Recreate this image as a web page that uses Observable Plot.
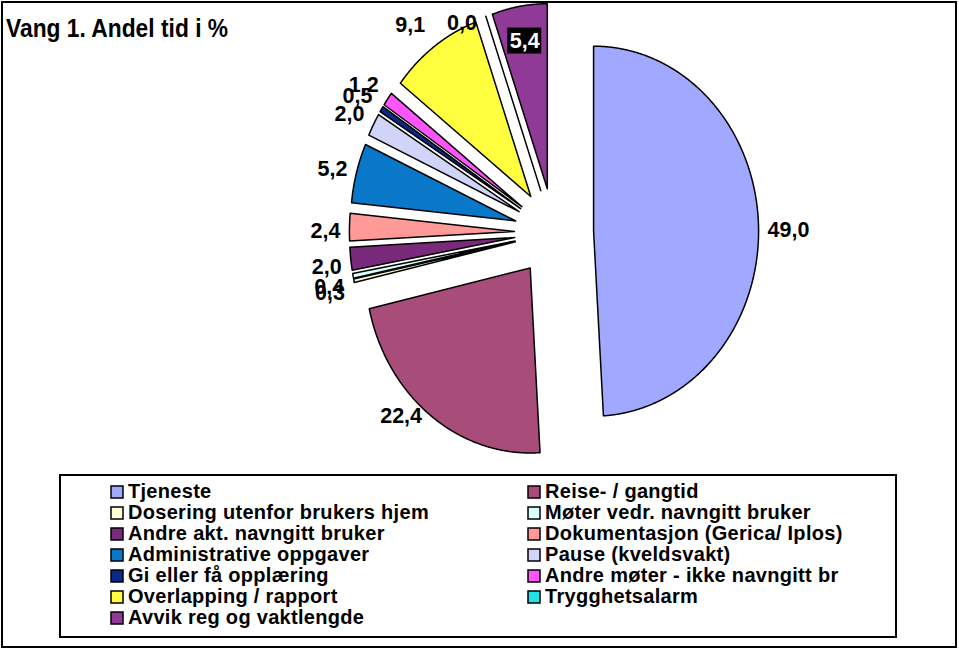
<!DOCTYPE html>
<html><head><meta charset="utf-8">
<script src="https://cdn.jsdelivr.net/npm/d3@7"></script>
<script src="https://cdn.jsdelivr.net/npm/@observablehq/plot@0.6"></script>
<style>
body{margin:0;background:#fff;}
#chart{position:relative;width:959px;height:651px;overflow:hidden;font-family:"Liberation Sans",Arial,sans-serif;background:#fff;}
#frame{position:absolute;left:1px;top:1px;width:956px;height:647px;border:2px solid #000;box-sizing:border-box;}
#title{position:absolute;left:6px;top:16px;font-size:22.8px;font-weight:bold;line-height:1;white-space:nowrap;transform:scaleY(1.12);transform-origin:0 0;color:#000;}
#pie{position:absolute;left:0;top:0;}
#legbox{position:absolute;left:59px;top:474px;width:838px;height:164px;border:2px solid #000;box-sizing:border-box;}
#legend{position:absolute;left:111px;top:481px;width:834px;}
.lg-swatches{margin:0 !important;column-gap:0 !important;font-family:"Liberation Sans",Arial,sans-serif !important;font-size:20px !important;letter-spacing:0.3px;font-weight:bold;color:#000 !important;width:834px;}
.lg-swatch{height:21px;padding:0 !important;margin:0 !important;display:flex;align-items:center;}
.lg-swatch svg{margin-right:5px !important;overflow:visible;}
.lg-swatch svg rect{stroke:#000;stroke-width:1.5px;}
</style>
</head><body>
<div id="chart">
  <div id="frame"></div>
  <div id="pie"></div>
  <div id="title">Vang 1. Andel tid i %</div>
  <div id="legbox"></div>
  <div id="legend"></div>
</div>
<script>
// ---- data ----
const names = [
  "Tjeneste",
  "Reise- / gangtid",
  "Dosering utenfor brukers hjem",
  "Møter vedr. navngitt bruker",
  "Andre akt. navngitt bruker",
  "Dokumentasjon (Gerica/ Iplos)",
  "Administrative oppgaver",
  "Pause (kveldsvakt)",
  "Gi eller få opplæring",
  "Andre møter - ikke navngitt br",
  "Overlapping / rapport",
  "Trygghetsalarm",
  "Avvik reg og vaktlengde"
];
const values = [49.0, 22.4, 0.3, 0.4, 2.0, 2.4, 5.2, 2.0, 0.5, 1.2, 9.1, 0.0, 5.4];
const colors = [
  "#a0a8ff", "#a84c7a", "#ffffd8", "#d8ffff", "#7a2a7a", "#ff9a98", "#0a78c8",
  "#d0d4f8", "#0a2a8a", "#ff55ff", "#ffff40", "#20e0e8", "#8e3a96"
];
const highlighted = "Avvik reg og vaktlengde";

// ---- layout constants ----
const CX = 553.5, CY = 232, RX = 165, RY = 185, EXPLODE = 0.24, GAP = 9;
const FONT = "'Liberation Sans', Arial, sans-serif";
const LABEL_SIZE = 21.5;

const total = d3.sum(values);
let acc = 0;
const slices = names.map((name, i) => {
  const a0 = acc / total * 2 * Math.PI;
  acc += values[i];
  const a1 = acc / total * 2 * Math.PI;
  const am = (a0 + a1) / 2;
  return {name, value: values[i], a0, a1, am, vx: EXPLODE * Math.sin(am), vy: EXPLODE * Math.cos(am)};
});

const outline = slices.flatMap(s => {
  const n = Math.max(1, Math.ceil((s.a1 - s.a0) / 0.004));
  const pts = [{name: s.name, x: s.vx, y: s.vy}];
  for (let k = 0; k <= n; k++) {
    const a = s.a0 + (s.a1 - s.a0) * k / n;
    pts.push({name: s.name, x: s.vx + Math.sin(a), y: s.vy + Math.cos(a)});
  }
  pts.push({name: s.name, x: s.vx, y: s.vy});
  return pts;
});

const fmt = v => v.toFixed(1).replace(".", ",");
const labels = slices.filter(s => s.name !== highlighted).map(s => {
  const px = s.vx + Math.sin(s.am), py = s.vy + Math.cos(s.am);
  const c = Math.cos(s.am);
  const side = Math.sin(s.am) >= 0 ? 1 : -1;
  const dyPx = c >= -0.25 ? 5 - 33 * c : 0;
  let y = py - dyPx / RY;
  y = Math.min(y, (CY - 23) / RY);
  return {name: s.name, text: fmt(s.value), side, x: px + side * GAP / RX, y};
});
const hs = slices.find(s => s.name === highlighted);
const hl = [{
  text: fmt(hs.value),
  x: hs.vx + 0.81 * Math.sin(hs.am),
  y: hs.vy + 0.81 * Math.cos(hs.am)
}];
const BW = 17 / RX, BH = 13 / RY;

const pie = Plot.plot({
  width: 959, height: 470, margin: 0,
  style: {background: "transparent", fontFamily: FONT},
  x: {domain: [-1, 1], range: [CX - RX, CX + RX], axis: null},
  y: {domain: [-1, 1], range: [CY + RY, CY - RY], axis: null},
  color: {type: "ordinal", domain: names, range: colors},
  marks: [
    Plot.line(outline, {x: "x", y: "y", z: "name", fill: "name", stroke: "#000", strokeWidth: 1.5, strokeLinejoin: "round", curve: "linear"}),
    Plot.text(labels.filter(d => d.side > 0), {x: "x", y: "y", text: "text", textAnchor: "start", fontSize: LABEL_SIZE, fontWeight: "bold", fill: "#000"}),
    Plot.text(labels.filter(d => d.side < 0), {x: "x", y: "y", text: "text", textAnchor: "end", fontSize: LABEL_SIZE, fontWeight: "bold", fill: "#000"}),
    Plot.rect(hl, {x1: d => d.x - BW, x2: d => d.x + BW, y1: d => d.y - BH, y2: d => d.y + BH, fill: "#000"}),
    Plot.text(hl, {x: "x", y: "y", text: "text", fontSize: LABEL_SIZE, fontWeight: "bold", fill: "#fff"})
  ]
});
document.getElementById("pie").appendChild(pie);

// legend: row-major order in two columns -> reorder for CSS column flow
const legDomain = names.filter((_, i) => i % 2 === 0).concat(names.filter((_, i) => i % 2 === 1));
const legRange = legDomain.map(n => colors[names.indexOf(n)]);
const leg = Plot.legend({
  color: {type: "ordinal", domain: legDomain, range: legRange},
  legend: "swatches",
  columns: 2,
  swatchSize: 12,
  className: "lg",
  width: 834
});
document.getElementById("legend").appendChild(leg);
</script>
</body></html>
